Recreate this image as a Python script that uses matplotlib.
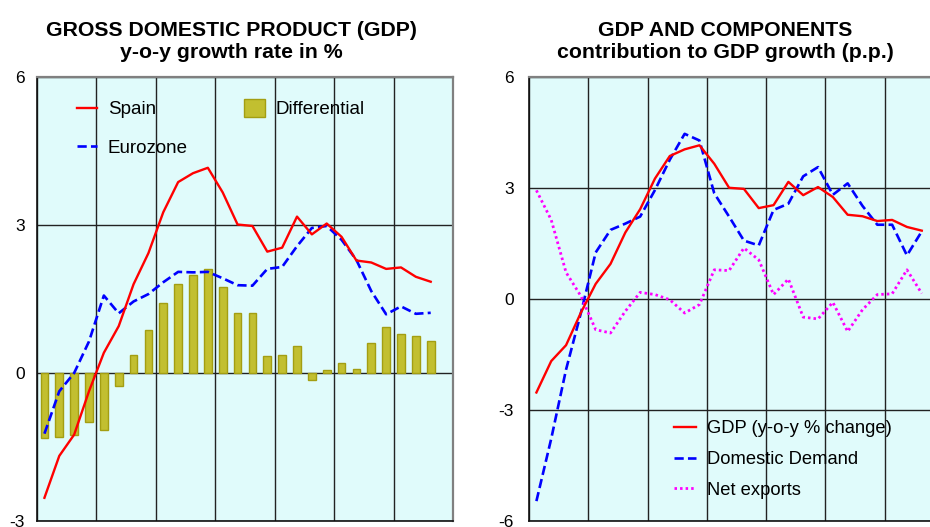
import numpy as np
import matplotlib
matplotlib.use("Agg")
import matplotlib.pyplot as plt
from matplotlib.patches import Patch

plt.rcParams['font.family'] = ['Liberation Sans', 'DejaVu Sans']

# ---------------- data (quarterly, 27 observations) ----------------
spain = [-2.53, -1.68, -1.25, -0.37, 0.41, 0.95, 1.80, 2.43, 3.26, 3.87, 4.05, 4.16,
         3.66, 3.01, 2.98, 2.46, 2.54, 3.17, 2.81, 3.03, 2.76, 2.28, 2.24, 2.11,
         2.14, 1.95, 1.85]
eurozone = [-1.23, -0.37, 0.00, 0.64, 1.57, 1.21, 1.45, 1.60, 1.84, 2.05, 2.04, 2.05,
            1.92, 1.78, 1.77, 2.11, 2.15, 2.57, 2.94, 2.98, 2.70, 2.29, 1.66, 1.19,
            1.35, 1.20, 1.22]
differential = [-1.32, -1.30, -1.26, -0.99, -1.16, -0.26, 0.36, 0.88, 1.41, 1.81, 1.99, 2.10,
                1.75, 1.22, 1.22, 0.34, 0.37, 0.55, -0.15, 0.07, 0.20, 0.08, 0.61, 0.93,
                0.80, 0.76, 0.64]
domestic_demand = [-5.47, -3.78, -1.91, -0.38, 1.26, 1.87, 2.04, 2.23, 2.95, 3.77, 4.47, 4.29,
                   2.86, 2.23, 1.58, 1.45, 2.41, 2.58, 3.32, 3.57, 2.82, 3.13, 2.52, 2.01,
                   2.01, 1.18, 1.83]
net_exports = [2.94, 2.14, 0.72, 0.08, -0.83, -0.92, -0.33, 0.18, 0.12, -0.02, -0.38, -0.15,
               0.79, 0.77, 1.38, 1.06, 0.12, 0.54, -0.49, -0.54, -0.09, -0.88, -0.29, 0.12,
               0.14, 0.79, 0.15]

titles_left = ["GROSS DOMESTIC PRODUCT (GDP)", "y-o-y growth rate in %"]
titles_right = ["GDP AND COMPONENTS", "contribution to GDP growth (p.p.)"]
labels_left = ["Spain", "Eurozone", "Differential"]
labels_right = ["GDP (y-o-y % change)", "Domestic Demand", "Net exports"]
yticks_left = [-3, 0, 3, 6]
yticks_right = [-6, -3, 0, 3, 6]

# ---------------- styling ----------------
BG = '#e0fbfb'
RED = '#ff0000'
BLUE = '#0000ff'
MAG = '#ff00ff'
BAR_FC = '#c2bf30'
BAR_EC = '#a39e12'

W, H = 930, 527
fig = plt.figure(figsize=(W / 100, H / 100), dpi=100)

def px_axes(x0, y0, x1, y1):
    return fig.add_axes([x0 / W, 1 - y1 / H, (x1 - x0) / W, (y1 - y0) / H])

x = np.arange(len(spain)) + 0.5
nslots = 28

def style_axes(ax, ylim, yticks, pad):
    ax.set_facecolor(BG)
    ax.set_xlim(0, nslots)
    ax.set_ylim(*ylim)
    ax.set_yticks(yticks)
    ax.set_yticklabels([str(t) for t in yticks], fontsize=12.5)
    ax.set_xticks(np.arange(0, nslots + 1, 4))
    ax.tick_params(axis='x', length=0, labelbottom=False)
    ax.tick_params(axis='y', length=0, pad=pad)
    ax.grid(True, color='#222222', lw=1.0, zorder=0)
    ax.set_axisbelow(True)
    for s in ['left', 'bottom']:
        ax.spines[s].set_color('#111111')
        ax.spines[s].set_linewidth(1.2)
    for s in ['top', 'right']:
        ax.spines[s].set_color('#808080')
        ax.spines[s].set_linewidth(1.6)

# ---------------- left chart ----------------
ax1 = px_axes(37, 77, 453, 521)
style_axes(ax1, (-3, 6), yticks_left, 9)
ax1.bar(x, differential, width=0.52, color=BAR_FC, edgecolor=BAR_EC, lw=1.0, zorder=2)
l_sp, = ax1.plot(x, spain, color=RED, lw=1.7, zorder=4)
l_ez, = ax1.plot(x, eurozone, color=BLUE, lw=1.9, ls=(0, (3.5, 1.6)), zorder=3)

leg1 = ax1.legend([l_sp, l_ez], labels_left[:2], loc='upper left',
                  bbox_to_anchor=(40 / 416, 1 - 24 / 444), frameon=False,
                  fontsize=13.5, handlelength=1.05, handletextpad=0.6,
                  labelspacing=1.15, borderaxespad=0, borderpad=0)
ax1.add_artist(leg1)
ax1.legend([Patch(facecolor=BAR_FC, edgecolor=BAR_EC)], labels_left[2:],
           loc='upper left', bbox_to_anchor=(207 / 416, 1 - 22 / 444), frameon=False,
           fontsize=13.5, handlelength=1.1, handleheight=1.1, handletextpad=0.6,
           borderaxespad=0, borderpad=0)

fig.text(231 / W, 1 - 30 / H, titles_left[0], ha='center', va='center',
         fontsize=15.3, fontweight='bold')
fig.text(231 / W, 1 - 52 / H, titles_left[1], ha='center', va='center',
         fontsize=15.3, fontweight='bold')

# ---------------- right chart ----------------
ax2 = px_axes(529, 77.3, 944, 520.7)
style_axes(ax2, (-6, 6), yticks_right, 11)
r_gdp, = ax2.plot(x, spain, color=RED, lw=1.7, zorder=4)
r_dd, = ax2.plot(x, domestic_demand, color=BLUE, lw=1.9, ls=(0, (3.5, 1.6)), zorder=3)
r_nx, = ax2.plot(x, net_exports, color=MAG, lw=2.0, ls=(0, (0.9, 1.1)), zorder=3)
ax2.legend([r_gdp, r_dd, r_nx], labels_right, loc='upper left',
           bbox_to_anchor=(145 / 415, 1 - 343 / 443.4), frameon=False,
           fontsize=13.2, handlelength=1.2, handletextpad=0.6, labelspacing=0.75,
           borderaxespad=0, borderpad=0)

fig.text(725 / W, 1 - 30 / H, titles_right[0], ha='center', va='center',
         fontsize=15.3, fontweight='bold')
fig.text(725 / W, 1 - 52 / H, titles_right[1], ha='center', va='center',
         fontsize=15.3, fontweight='bold')

fig.savefig('out.png', dpi=100, facecolor='white')
